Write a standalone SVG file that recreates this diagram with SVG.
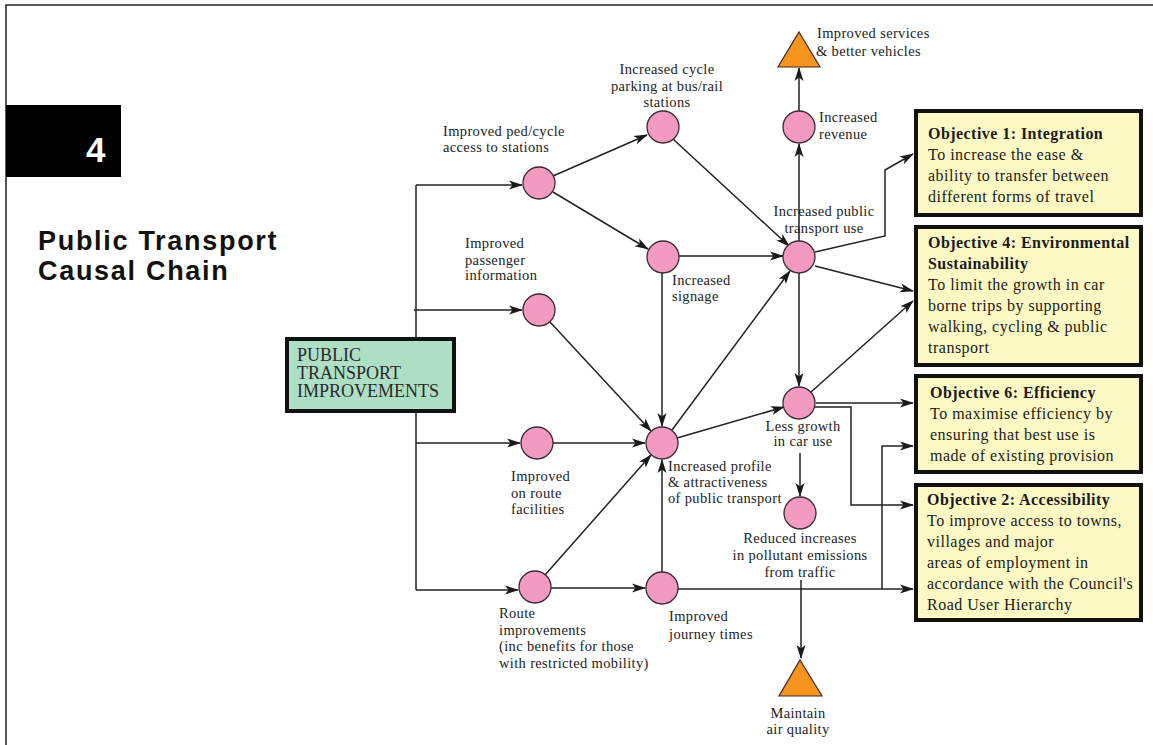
<svg xmlns="http://www.w3.org/2000/svg" width="1153" height="745" viewBox="0 0 1153 745">
  <defs>
    <marker id="arr" markerUnits="userSpaceOnUse" markerWidth="14" markerHeight="10" refX="13" refY="5" orient="auto">
      <path d="M0,0.5 L14,5 L0,9.5 L3.5,5 z" fill="#1a1a1a"/>
    </marker>
    <style>
      .frame { stroke: #222; stroke-width: 1.5; fill: none; }
      .ln { stroke: #222; stroke-width: 1.5; fill: none; }
      .ar { marker-end: url(#arr); }
      .dot { fill: #f29ac0; stroke: #3a2a30; stroke-width: 1.3; }
      .tri { fill: #f7941d; stroke: #3a2a20; stroke-width: 1.2; }
      .lbl { font-family: "Liberation Serif", serif; font-size: 14.5px; letter-spacing: 0.35px; fill: #222; }
      .mid { text-anchor: middle; }
      .obj rect { fill: #fdf9c4; stroke: #111; stroke-width: 4; }
      .ot { font-family: "Liberation Serif", serif; font-size: 16px; letter-spacing: 0.45px; font-weight: bold; fill: #1a1a1a; }
      .ob { font-family: "Liberation Serif", serif; font-size: 16px; letter-spacing: 0.5px; fill: #1a1a1a; }
      .title { font-family: "Liberation Sans", Arial, sans-serif; font-size: 27px; font-weight: bold; letter-spacing: 1.7px; fill: #111; }
    </style>
  </defs>

  <rect width="1153" height="745" fill="#ffffff"/>

  <!-- page frame -->
  <path class="frame" d="M6,745 L6,5 L1153,5"/>

  <!-- chapter tab and heading -->
  <g id="chapter">
    <rect x="6" y="105" width="115" height="72" fill="#000"/>
    <text x="86" y="162" font-family="Liberation Sans, Arial, sans-serif" font-size="35" font-weight="bold" fill="#fff">4</text>
  </g>
  <g id="heading">
    <text class="title" x="38" y="250">Public Transport</text>
    <text class="title" x="38" y="280">Causal Chain</text>
  </g>

  <!-- connectors -->
  <g id="connectors">
    <path class="ln" d="M416,185 L416,590"/>
    <path class="ln ar" d="M416,185 L522,185"/>
    <path class="ln ar" d="M414,310 L522,310"/>
    <path class="ln ar" d="M416,443 L520,443"/>
    <path class="ln ar" d="M416,590 L518,590"/>
    <path class="ln ar" d="M553,176 L647,135"/>
    <path class="ln ar" d="M553,192 L648,249"/>
    <path class="ln ar" d="M550,322 L651,431"/>
    <path class="ln ar" d="M673,139 L789,246"/>
    <path class="ln ar" d="M678,256 L783,256"/>
    <path class="ln ar" d="M662,273 L662,426"/>
    <path class="ln ar" d="M553,443 L645,443"/>
    <path class="ln ar" d="M545,575 L651,455"/>
    <path class="ln ar" d="M551,588 L645,588"/>
    <path class="ln ar" d="M662,572 L662,460"/>
    <path class="ln ar" d="M672,430 L790,271"/>
    <path class="ln ar" d="M677,438 L784,407"/>
    <path class="ln ar" d="M799,241 L799,144"/>
    <path class="ln ar" d="M799,112 L799,68"/>
    <path class="ln ar" d="M815,252 L885,236 L885,170 L913,154"/>
    <path class="ln ar" d="M815,266 L913,291"/>
    <path class="ln ar" d="M799,273 L799,386"/>
    <path class="ln ar" d="M811,392 L913,301"/>
    <path class="ln ar" d="M816,403 L913,403"/>
    <path class="ln ar" d="M815,407 L851,407 L851,505 L913,505"/>
    <path class="ln ar" d="M800,453 L800,496"/>
    <path class="ln ar" d="M678,589 L913,589"/>
    <path class="ln ar" d="M882,589 L882,446 L913,446"/>
    <path class="ln ar" d="M801,580 L801,658"/>
  </g>

  <!-- source box -->
  <g id="pt-improvements">
    <rect x="287" y="339" width="167" height="72" fill="#aedfc4" stroke="#111" stroke-width="4"/>
    <text font-family="Liberation Serif, serif" font-size="18" fill="#2a2a2a">
      <tspan x="297" y="361">PUBLIC</tspan>
      <tspan x="297" y="379">TRANSPORT</tspan>
      <tspan x="297" y="397">IMPROVEMENTS</tspan>
    </text>
  </g>

  <!-- causal nodes -->
  <g id="ped-cycle-access">
    <circle class="dot" cx="539" cy="183" r="16"/>
    <text class="lbl"><tspan x="443" y="136">Improved ped/cycle</tspan><tspan x="443" y="152">access to stations</tspan></text>
  </g>
  <g id="passenger-info">
    <circle class="dot" cx="539" cy="310" r="16"/>
    <text class="lbl"><tspan x="465" y="248">Improved</tspan><tspan x="465" y="265">passenger</tspan><tspan x="465" y="280">information</tspan></text>
  </g>
  <g id="cycle-parking">
    <circle class="dot" cx="663" cy="127" r="16"/>
    <text class="lbl mid"><tspan x="667" y="74">Increased cycle</tspan><tspan x="667" y="91">parking at bus/rail</tspan><tspan x="667" y="107">stations</tspan></text>
  </g>
  <g id="signage">
    <circle class="dot" cx="663" cy="257" r="16"/>
    <text class="lbl"><tspan x="672" y="285">Increased</tspan><tspan x="672" y="301">signage</tspan></text>
  </g>
  <g id="pt-use">
    <circle class="dot" cx="799" cy="257" r="16"/>
    <text class="lbl mid"><tspan x="824" y="216">Increased public</tspan><tspan x="824" y="233">transport use</tspan></text>
  </g>
  <g id="revenue">
    <circle class="dot" cx="799" cy="127" r="16"/>
    <text class="lbl"><tspan x="819" y="122">Increased</tspan><tspan x="819" y="139">revenue</tspan></text>
  </g>
  <g id="better-services">
    <path class="tri" d="M799,32 L820,67 L778,67 z"/>
    <text class="lbl"><tspan x="817" y="38">Improved services</tspan><tspan x="816" y="56">&amp; better vehicles</tspan></text>
  </g>
  <g id="profile">
    <circle class="dot" cx="662" cy="443" r="16"/>
    <text class="lbl"><tspan x="668" y="471">Increased profile</tspan><tspan x="668" y="487">&amp; attractiveness</tspan><tspan x="668" y="503">of public transport</tspan></text>
  </g>
  <g id="less-car-growth">
    <circle class="dot" cx="799" cy="403" r="16"/>
    <text class="lbl mid"><tspan x="803" y="431">Less growth</tspan><tspan x="803" y="446">in car use</tspan></text>
  </g>
  <g id="emissions">
    <circle class="dot" cx="800" cy="513" r="16"/>
    <text class="lbl mid"><tspan x="800" y="543">Reduced increases</tspan><tspan x="800" y="560">in pollutant emissions</tspan><tspan x="800" y="577">from traffic</tspan></text>
  </g>
  <g id="on-route">
    <circle class="dot" cx="537" cy="443" r="16"/>
    <text class="lbl"><tspan x="511" y="481">Improved</tspan><tspan x="511" y="498">on route</tspan><tspan x="511" y="514">facilities</tspan></text>
  </g>
  <g id="route-improvements">
    <circle class="dot" cx="535" cy="587" r="16"/>
    <text class="lbl"><tspan x="499" y="618">Route</tspan><tspan x="499" y="635">improvements</tspan><tspan x="499" y="651">(inc benefits for those</tspan><tspan x="499" y="668">with restricted mobility)</tspan></text>
  </g>
  <g id="journey-times">
    <circle class="dot" cx="662" cy="588" r="16"/>
    <text class="lbl"><tspan x="669" y="621">Improved</tspan><tspan x="669" y="639">journey times</tspan></text>
  </g>
  <g id="air-quality">
    <path class="tri" d="M800,660 L822,696 L779,696 z"/>
    <text class="lbl mid"><tspan x="798" y="718">Maintain</tspan><tspan x="798" y="734">air quality</tspan></text>
  </g>

  <!-- objectives -->
  <g id="objective-1" class="obj">
    <rect x="916" y="111" width="225" height="104"/>
    <text class="ot" x="928" y="139">Objective 1: Integration</text>
    <text class="ob"><tspan x="928" y="160">To increase the ease &amp;</tspan><tspan x="928" y="181">ability to transfer between</tspan><tspan x="928" y="202">different forms of travel</tspan></text>
  </g>
  <g id="objective-4" class="obj">
    <rect x="916" y="227" width="225" height="138"/>
    <text class="ot"><tspan x="928" y="248">Objective 4: Environmental</tspan><tspan x="928" y="269">Sustainability</tspan></text>
    <text class="ob"><tspan x="928" y="290">To limit the growth in car</tspan><tspan x="928" y="311">borne trips by supporting</tspan><tspan x="928" y="332">walking, cycling &amp; public</tspan><tspan x="928" y="353">transport</tspan></text>
  </g>
  <g id="objective-6" class="obj">
    <rect x="916" y="376" width="225" height="96"/>
    <text class="ot" x="930" y="398">Objective 6: Efficiency</text>
    <text class="ob"><tspan x="930" y="419">To maximise efficiency by</tspan><tspan x="930" y="440">ensuring that best use is</tspan><tspan x="930" y="461">made of existing provision</tspan></text>
  </g>
  <g id="objective-2" class="obj">
    <rect x="916" y="485" width="225" height="135"/>
    <text class="ot" x="927" y="505">Objective 2: Accessibility</text>
    <text class="ob"><tspan x="927" y="526">To improve access to towns,</tspan><tspan x="927" y="547">villages and major</tspan><tspan x="927" y="568">areas of employment in</tspan><tspan x="927" y="589">accordance with the Council's</tspan><tspan x="927" y="610">Road User Hierarchy</tspan></text>
  </g>
</svg>
